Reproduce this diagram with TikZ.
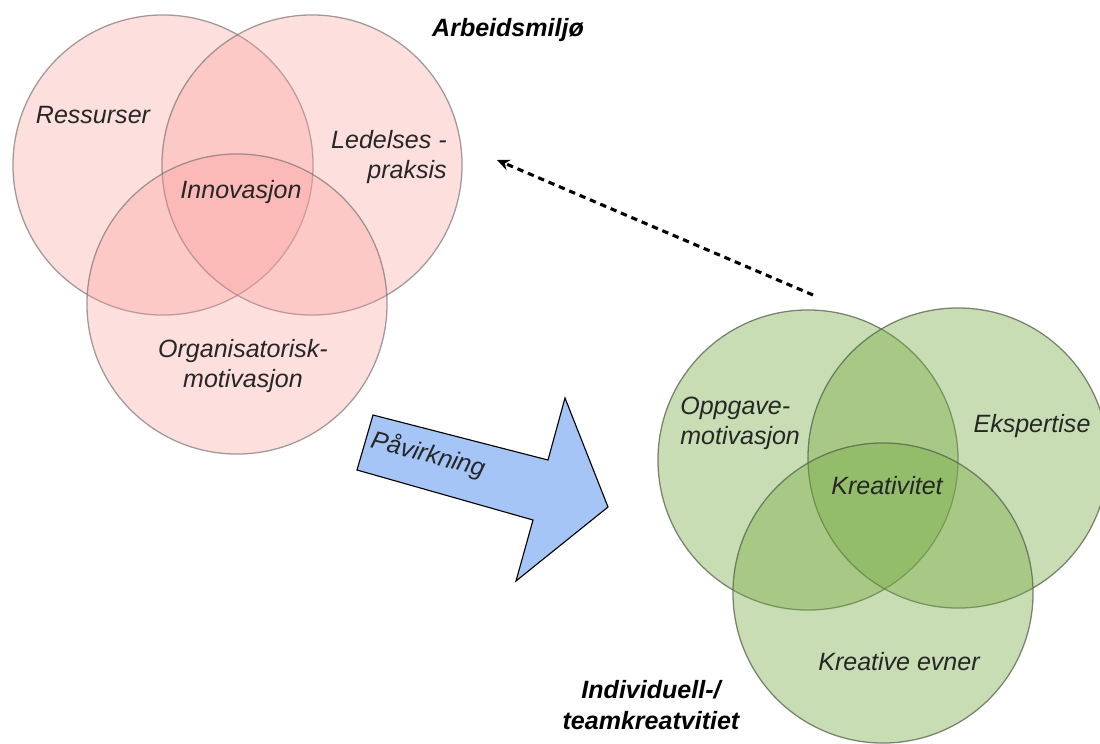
\documentclass[tikz,border=0pt]{standalone}
\usepackage{fontspec}
\setmainfont{Liberation Sans}
\usetikzlibrary{arrows.meta,positioning}

\begin{document}
\begin{tikzpicture}[x=0.025cm,y=-0.025cm,
	krets/.style={circle,minimum size=7.5cm,inner sep=0pt,line width=0.9pt},
	rosa/.style={krets,fill={rgb,255:red,250;green,158;blue,155},fill opacity=0.33,
		draw={rgb,255:red,125;green,115;blue,115},draw opacity=0.7},
	gronn/.style={krets,fill={rgb,255:red,118;green,172;blue,66},fill opacity=0.4,
		draw={rgb,255:red,85;green,95;blue,75},draw opacity=0.75},
	etikett/.style={font=\itshape\fontsize{17.8}{21.5}\selectfont,text=black!85,align=center,inner sep=0pt},
	overskrift/.style={etikett,font=\bfseries\itshape\fontsize{17.8}{21.5}\selectfont,text=black},
	stiplet/.style={-{Stealth[length=9pt,width=8pt]},line width=2.2pt,dash pattern=on 4.5pt off 3.5pt}]

	\useasboundingbox (0,0) rectangle (1100,744);
	\fill[white] (0,0) rectangle (1100,744);

	% arbeidsmiljoet
	\node[rosa] (ressurser) at (163,165) {};
	\node[rosa] (ledelse) at (312,165) {};
	\node[rosa] (organisasjon) at (237,304) {};

	\node[etikett] (ressurstekst) at (93,115) {Ressurser};
	\node[etikett,align=right,anchor=east] (ledelsetekst) at (447,157) {Ledelses -\\praksis};
	\node[etikett] (innovasjon) at (241,192) {Innovasjon};
	\node[etikett] (organisasjontekst) at (243,366) {Organisatorisk-\\motivasjon};
	\node[overskrift] (arbeidsmiljo) at (508,30) {Arbeidsmiljø};

	% kreativiteten
	\node[gronn] (oppgave) at (808,460) {};
	\node[gronn] (ekspertise) at (958,458) {};
	\node[gronn] (evner) at (883,593) {};

	\node[etikett,align=left,anchor=west] (oppgavetekst) at (680,423) {Oppgave-\\motivasjon};
	\node[etikett] (ekspertisetekst) at (1032,426) {Ekspertise};
	\node[etikett] (kreativitet) at (887,486) {Kreativitet};
	\node[etikett] (evnertekst) at (899,662) {Kreative evner};
	\node[overskrift] (team) at (651,705) {Individuell-/\\teamkreatvitiet};

	% paavirkning
	\draw[fill={rgb,255:red,166;green,197;blue,247},line width=0.8pt,line join=miter]
		(373,415) -- (548,460) -- (565,398) -- (608,507) -- (516,581) -- (533,520) -- (357,470) -- cycle;
	\node[etikett,rotate=-14.5] (pavirkning) at (428,455) {Påvirkning};

	\coordinate (tilbakestart) at (813,295);
	\coordinate (tilbakeslutt) at (497,160);
	\draw[stiplet] (tilbakestart) -- (tilbakeslutt);

\end{tikzpicture}
\end{document}
